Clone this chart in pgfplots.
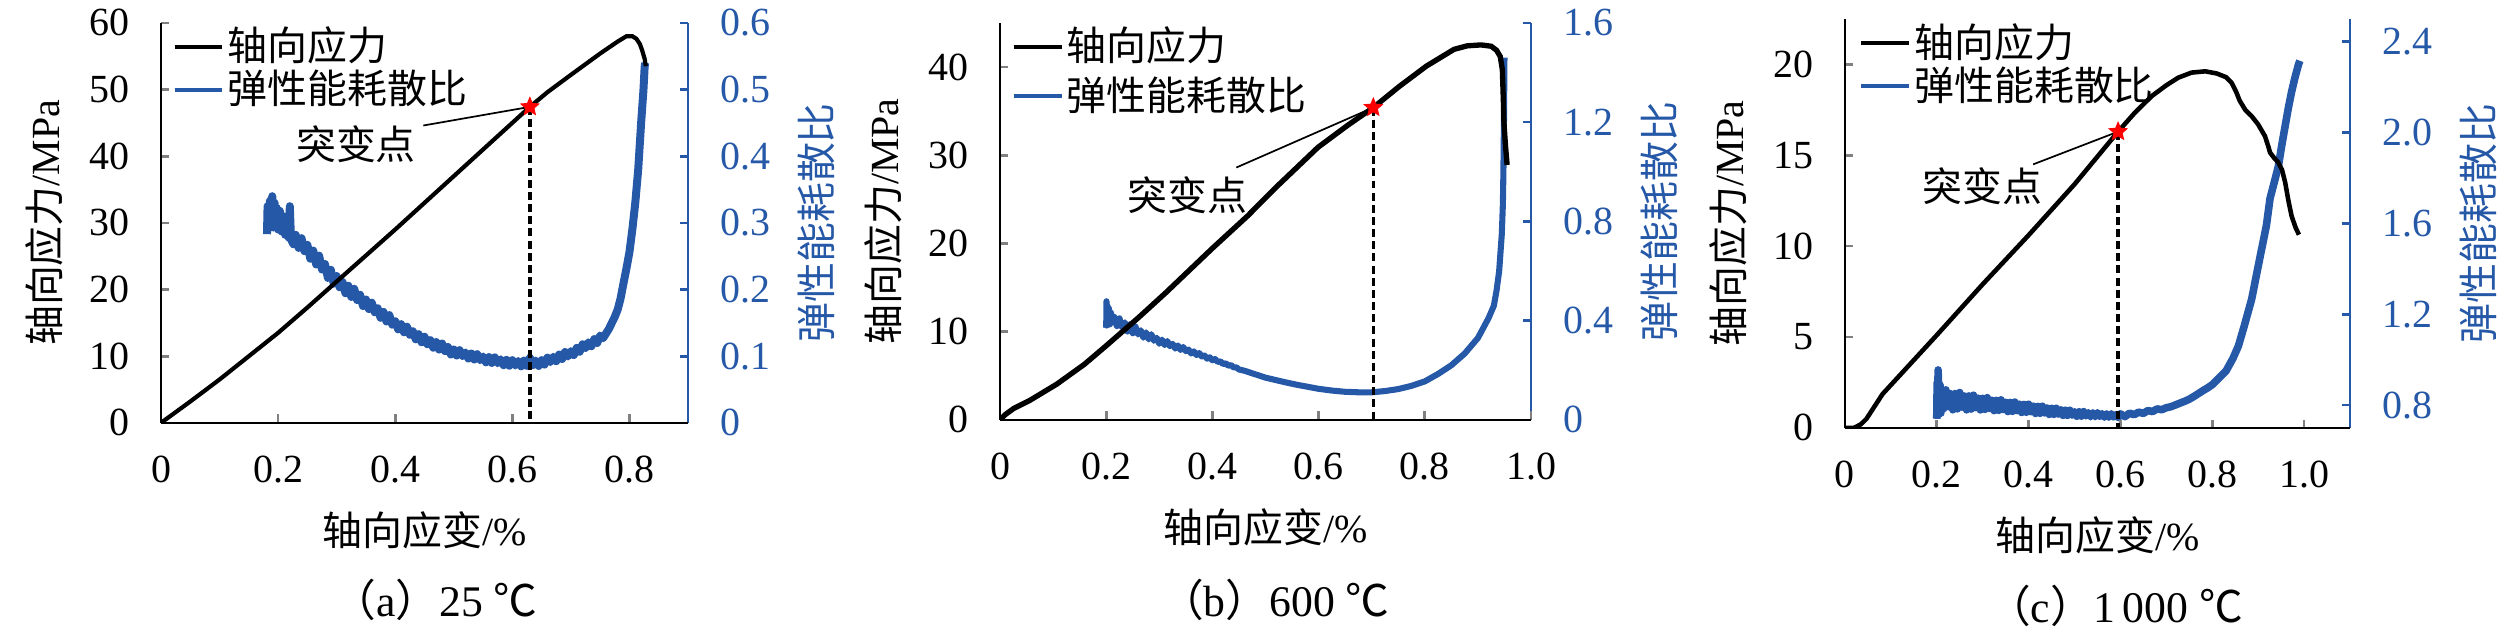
\documentclass[border=0pt]{standalone}
\usepackage{fontspec}
\setmainfont{Liberation Serif}
\newfontfamily\cjk{Noto Sans CJK SC}
\usepackage{pgfplots}
\pgfplotsset{compat=1.18}
\definecolor{bl}{RGB}{38,88,168}
\newcommand{\lf}{\fontsize{10.5}{12}\selectfont\cjk}
\tikzset{ann/.style={font=\fontsize{10.5}{12}\selectfont\cjk, inner sep=0pt}}
\pgfdeclareplotmark{fstar}{%
 \pgfpathmoveto{\pgfqpoint{0pt}{\pgfplotmarksize}}%
 \pgfpathlineto{\pgfqpoint{-0.265\pgfplotmarksize}{0.364\pgfplotmarksize}}%
 \pgfpathlineto{\pgfqpoint{-0.951\pgfplotmarksize}{0.309\pgfplotmarksize}}%
 \pgfpathlineto{\pgfqpoint{-0.428\pgfplotmarksize}{-0.139\pgfplotmarksize}}%
 \pgfpathlineto{\pgfqpoint{-0.588\pgfplotmarksize}{-0.809\pgfplotmarksize}}%
 \pgfpathlineto{\pgfqpoint{0pt}{-0.45\pgfplotmarksize}}%
 \pgfpathlineto{\pgfqpoint{0.588\pgfplotmarksize}{-0.809\pgfplotmarksize}}%
 \pgfpathlineto{\pgfqpoint{0.428\pgfplotmarksize}{-0.139\pgfplotmarksize}}%
 \pgfpathlineto{\pgfqpoint{0.951\pgfplotmarksize}{0.309\pgfplotmarksize}}%
 \pgfpathlineto{\pgfqpoint{0.265\pgfplotmarksize}{0.364\pgfplotmarksize}}%
 \pgfpathclose\pgfusepathqfillstroke}
\pgfplotsset{
 base/.style={scale only axis, anchor=south west,
  tick align=inside, major tick length=2.2pt,
  /pgf/number format/assume math mode=true,
  tick label style={font=\fontsize{10.5}{12}\selectfont, inner sep=0pt},
  label style={font=\fontsize{10.5}{12}\selectfont},
  axis line style={line width=0.7pt},
  major tick style={line width=0.7pt}},
 leftax/.style={base, axis x line*=bottom, axis y line*=left,
  xticklabel style={anchor=center, yshift=-12.3pt},
  yticklabel style={anchor=east, xshift=-8.2pt},
  xlabel style={at={(axis description cs:0.5,0)}, anchor=center, yshift=-28.2pt},
  ylabel style={anchor=center},
  xlabel={{\cjk 轴向应变}/\%}, ylabel={{\cjk 轴向应力}/MPa},
  legend cell align=left,
  legend image code/.code={\draw[##1,line width=0.9pt] (0pt,0pt) -- (12.6pt,0pt);},
  legend style={anchor=north west, draw=none, fill=none, inner sep=0pt,
    font=\fontsize{10.5}{12}\selectfont\cjk, nodes={inner sep=0.9pt, scale=1}, row sep=-0.8pt}},
 rightax/.style={base, axis x line=none, axis y line*=right,
  y axis line style={bl}, ytick style={bl},
  yticklabel style={bl, anchor=west, xshift=8.4pt},
  ylabel style={bl, anchor=center},
  ylabel={{\cjk 弹性能耗散比}}},
 star/.style={red, draw=red, fill=red, only marks, mark=fstar, mark size=2.4pt, line width=0.3pt, forget plot},
 dline/.style={black, line width=0.9pt, dash pattern=on 2.1pt off 1.1pt, forget plot},
}
\begin{document}
\begin{tikzpicture}
\path[use as bounding box] (0,0) rectangle (662.9pt,167.6pt);
% ================= (a) =================
\begin{axis}[rightax, at={(42.37pt,56.32pt)}, width=138.68pt, height=105.26pt,
  xmin=0, xmax=0.9, ymin=0, ymax=0.6, xtick=\empty,
  ytick={0,0.1,0.2,0.3,0.4,0.5,0.6}, yticklabels={0,0.1,0.2,0.3,0.4,0.5,0.6},
  ylabel style={at={(axis description cs:1.2437,0.5)}}]
\addplot[bl, line width=2.1pt, line join=round] coordinates {
(0.181,0.283)(0.182,0.325)(0.184,0.292)(0.186,0.333)(0.188,0.298)(0.190,0.340)(0.192,0.293)(0.194,0.330)(0.196,0.295)(0.198,0.322)(0.200,0.290)(0.203,0.318)(0.206,0.287)(0.209,0.310)(0.212,0.282)(0.215,0.300)(0.218,0.278)(0.220,0.325)(0.222,0.275)(0.226,0.268)
(0.230,0.282)(0.235,0.2625)(0.240,0.277)(0.245,0.2575)(0.250,0.267)(0.255,0.2462)(0.260,0.2584)(0.265,0.2376)(0.270,0.2508)(0.275,0.230)(0.280,0.2382)(0.285,0.2174)(0.290,0.2296)(0.295,0.2088)(0.300,0.2202)(0.305,0.2034)(0.310,0.2113)(0.315,0.1944)(0.320,0.2057)(0.325,0.1889)(0.330,0.201)(0.335,0.1842)(0.340,0.1921)(0.345,0.1752)(0.350,0.185)(0.355,0.1707)(0.360,0.1802)(0.365,0.1659)(0.370,0.1719)(0.375,0.1576)(0.380,0.1664)(0.385,0.1521)(0.390,0.1616)(0.395,0.1473)(0.400,0.1524)(0.405,0.1403)(0.410,0.148)(0.415,0.1359)(0.420,0.1442)(0.425,0.1321)(0.430,0.1374)(0.435,0.1253)(0.440,0.133)(0.445,0.1209)(0.450,0.1292)(0.455,0.1179)(0.460,0.124)(0.465,0.1127)(0.470,0.1212)(0.475,0.1099)(0.480,0.119)(0.485,0.1077)(0.490,0.1138)(0.495,0.1025)(0.500,0.110)(0.505,0.101)(0.510,0.109)(0.515,0.100)(0.520,0.1055)(0.525,0.0965)(0.530,0.104)(0.535,0.095)(0.540,0.103)(0.545,0.094)(0.550,0.0995)(0.555,0.0908)(0.560,0.0986)(0.565,0.0899)(0.570,0.0982)(0.575,0.0895)(0.580,0.0953)(0.585,0.0866)(0.590,0.0944)(0.595,0.0857)(0.600,0.094)(0.605,0.0861)(0.610,0.0927)(0.615,0.0848)(0.620,0.0934)(0.625,0.0855)(0.630,0.0976)(0.635,0.0867)(0.640,0.0933)(0.645,0.0854)(0.650,0.094)(0.655,0.0874)(0.660,0.0978)(0.665,0.0912)(0.670,0.0991)(0.675,0.0925)(0.680,0.1024)(0.685,0.0958)(0.690,0.1062)(0.695,0.0996)(0.700,0.1075)(0.705,0.1017)(0.710,0.1124)(0.715,0.1066)(0.720,0.1178)(0.725,0.112)(0.730,0.1207)(0.735,0.1149)(0.740,0.1256)(0.745,0.1198)(0.750,0.131)(0.755,0.127)(0.760,0.134)(0.765,0.141)(0.770,0.150)(0.775,0.159)(0.780,0.170)(0.785,0.187)(0.790,0.210)(0.795,0.232)(0.800,0.256)(0.805,0.290)(0.810,0.330)(0.815,0.380)(0.820,0.450)(0.824,0.500)(0.826,0.534)(0.827,0.540)};
\end{axis}
\begin{axis}[leftax, at={(42.37pt,56.32pt)}, width=138.68pt, height=105.26pt,
  xmin=0, xmax=0.9, ymin=0, ymax=60,
  xtick={0,0.2,0.4,0.6,0.8}, xticklabels={0,0.2,0.4,0.6,0.8},
  ytick={0,10,20,30,40,50,60}, yticklabels={0,10,20,30,40,50,60},
  ylabel style={at={(axis description cs:-0.2221,0.5)}},
  legend style={at={(axis description cs:0.021,1.0)}}]
\addplot[black, line width=1.1pt] coordinates {
(0,0)(0.05,3.2)(0.1,6.5)(0.15,10.0)(0.2,13.5)(0.25,17.3)(0.3,21.2)(0.35,25.1)(0.4,29.0)(0.45,33.0)(0.5,37.0)(0.55,41.0)(0.6,45.0)(0.63,47.4)(0.66,49.6)(0.7,52.2)(0.75,55.4)(0.78,57.2)(0.795,58.0)(0.805,58.0)(0.812,57.6)(0.818,56.8)(0.822,55.8)(0.826,54.6)(0.828,53.5)};
\addlegendentry{\lf 轴向应力}
\addlegendimage{bl, line width=1pt}
\addlegendentry{\lf 弹性能耗散比}
\addplot[dline] coordinates {(0.63,47.4)(0.63,0)};
\draw[line width=0.45pt] (axis cs:0.63,47.4) -- (axis cs:0.448,44.6);
\addplot[star] coordinates {(0.63,47.4)};
\node[ann] at (axis cs:0.333,41.8) {突变点};
\end{axis}
% ================= (b) =================
\begin{axis}[rightax, at={(263.16pt,57.11pt)}, width=139.74pt, height=104.47pt,
  xmin=0, xmax=1.0, ymin=0, ymax=1.6, xtick=\empty,
  ytick={0,0.4,0.8,1.2,1.6}, yticklabels={0,0.4,0.8,1.2,1.6},
  ylabel style={at={(axis description cs:1.2419,0.5)}}]
\addplot[bl, line width=1.6pt, line join=round] coordinates {
(0.200,0.372)(0.2005,0.478)(0.201,0.380)(0.202,0.462)(0.203,0.388)(0.205,0.450)(0.207,0.385)(0.209,0.432)(0.211,0.392)
(0.215,0.415)(0.220,0.378)(0.225,0.409)(0.230,0.372)(0.235,0.393)(0.240,0.356)(0.245,0.385)(0.250,0.349)(0.255,0.3764)(0.260,0.3443)(0.265,0.3611)(0.270,0.3311)(0.275,0.3525)(0.280,0.3244)(0.285,0.3451)(0.290,0.3187)(0.295,0.3308)(0.300,0.3066)(0.305,0.3231)(0.310,0.3013)(0.315,0.3175)(0.320,0.2968)(0.325,0.3065)(0.330,0.2873)(0.335,0.2997)(0.340,0.2817)(0.345,0.2936)(0.350,0.2768)(0.355,0.2832)(0.360,0.2674)(0.365,0.276)(0.370,0.2611)(0.375,0.2693)(0.380,0.2553)(0.385,0.2594)(0.390,0.2465)(0.395,0.252)(0.400,0.240)(0.405,0.245)(0.410,0.2336)(0.415,0.2356)(0.420,0.2249)(0.425,0.228)(0.430,0.2179)(0.435,0.2207)(0.440,0.2112)(0.445,0.2117)(0.450,0.2029)(0.46,0.198)(0.47,0.191)(0.48,0.184)(0.49,0.177)(0.50,0.170)(0.52,0.160)(0.54,0.150)(0.56,0.141)(0.58,0.133)(0.600,0.125)(0.625,0.118)(0.650,0.113)(0.675,0.111)(0.700,0.111)(0.725,0.116)(0.750,0.124)(0.775,0.137)(0.800,0.155)(0.825,0.185)(0.850,0.220)(0.875,0.267)(0.900,0.330)(0.910,0.370)(0.920,0.410)(0.930,0.460)(0.935,0.520)(0.940,0.600)(0.945,0.750)(0.947,0.870)(0.948,1.000)(0.949,1.200)(0.950,1.460)};
\end{axis}
\begin{axis}[leftax, at={(263.16pt,57.11pt)}, width=139.74pt, height=104.47pt,
  xmin=0, xmax=1.0, ymin=0, ymax=45,
  xtick={0,0.2,0.4,0.6,0.8,1.0}, xticklabels={0,0.2,0.4,0.6,0.8,1.0},
  ytick={0,10,20,30,40}, yticklabels={0,10,20,30,40},
  ylabel style={at={(axis description cs:-0.2204,0.5)}},
  legend style={at={(axis description cs:0.021,1.0)}, row sep=0.8pt}]
\addplot[black, line width=1.4pt] coordinates {
(0,0)(0.01,0.6)(0.026,1.3)(0.056,2.2)(0.107,4.05)(0.159,6.3)(0.2,8.4)(0.261,11.6)(0.312,14.4)(0.4,19.45)(0.466,23.1)(0.517,26.2)(0.599,30.9)(0.655,33.4)(0.703,35.4)(0.752,37.8)(0.803,40.1)(0.855,42.0)(0.88,42.4)(0.906,42.5)(0.925,42.35)(0.935,41.9)(0.942,41.2)(0.946,39.7)(0.948,36.0)(0.949,33.7)(0.952,31.0)(0.955,28.9)};
\addlegendentry{\lf 轴向应力}
\addlegendimage{bl, line width=1pt}
\addlegendentry{\lf 弹性能耗散比}
\addplot[dline] coordinates {(0.703,35.4)(0.703,0)};
\draw[line width=0.45pt] (axis cs:0.703,35.4) -- (axis cs:0.445,28.6);
\addplot[star] coordinates {(0.703,35.4)};
\node[ann] at (axis cs:0.353,25.5) {突变点};
\end{axis}
% ================= (c) =================
\begin{axis}[rightax, at={(485.5pt,55.0pt)}, width=132.9pt, height=107.6pt,
  xmin=0, xmax=1.1, ymin=0.7, ymax=2.5, xtick=\empty,
  ytick={0.8,1.2,1.6,2.0,2.4}, yticklabels={0.8,1.2,1.6,2.0,2.4},
  ylabel style={at={(axis description cs:1.2543,0.5)}}]
\addplot[bl, line width=2.0pt, line join=round] coordinates {
(0.200,0.740)(0.201,0.900)(0.202,0.770)(0.203,0.955)(0.205,0.760)(0.207,0.890)(0.209,0.765)
(0.210,0.8615)(0.215,0.7846)(0.220,0.8672)(0.225,0.7933)(0.230,0.8501)(0.235,0.7797)(0.240,0.851)(0.245,0.7837)(0.250,0.8555)(0.255,0.7912)(0.260,0.8402)(0.265,0.7794)(0.270,0.8405)(0.275,0.7828)(0.280,0.8438)(0.285,0.7891)(0.290,0.8303)(0.295,0.7791)(0.300,0.830)(0.305,0.7813)(0.310,0.8328)(0.315,0.7856)(0.320,0.8212)(0.325,0.7757)(0.330,0.821)(0.335,0.7771)(0.340,0.8232)(0.345,0.7808)(0.350,0.8125)(0.355,0.7718)(0.360,0.812)(0.365,0.7729)(0.370,0.8136)(0.375,0.776)(0.380,0.8038)(0.385,0.7679)(0.390,0.803)(0.395,0.7687)(0.400,0.804)(0.405,0.7712)(0.410,0.7953)(0.415,0.7638)(0.420,0.7944)(0.425,0.7642)(0.430,0.7951)(0.435,0.7661)(0.440,0.7871)(0.445,0.7595)(0.450,0.786)(0.455,0.7596)(0.460,0.7862)(0.465,0.7611)(0.470,0.779)(0.475,0.7552)(0.480,0.7776)(0.485,0.7551)(0.490,0.7774)(0.495,0.756)(0.500,0.7708)(0.505,0.7513)(0.510,0.7705)(0.515,0.7517)(0.520,0.7712)(0.525,0.7532)(0.530,0.7665)(0.535,0.7493)(0.540,0.766)(0.545,0.7496)(0.550,0.7664)(0.555,0.7508)(0.560,0.7621)(0.565,0.7474)(0.570,0.7615)(0.575,0.7475)(0.580,0.7616)(0.585,0.7484)(0.590,0.7578)(0.595,0.7454)(0.600,0.762)(0.610,0.7495)(0.620,0.7647)(0.630,0.7581)(0.640,0.7692)(0.650,0.7636)(0.660,0.7762)(0.670,0.7716)(0.680,0.7835)(0.690,0.7798)(0.700,0.7886)(0.710,0.793)(0.720,0.801)(0.730,0.809)(0.740,0.817)(0.750,0.826)(0.760,0.838)(0.770,0.851)(0.780,0.864)(0.790,0.876)(0.800,0.890)(0.815,0.920)(0.830,0.950)(0.845,1.005)(0.857,1.060)(0.870,1.150)(0.886,1.267)(0.900,1.410)(0.910,1.510)(0.918,1.590)(0.926,1.710)(0.935,1.780)(0.944,1.850)(0.952,1.950)(0.959,2.030)(0.966,2.110)(0.973,2.180)(0.980,2.240)(0.988,2.300)(0.991,2.316)};
\end{axis}
\begin{axis}[leftax, at={(485.5pt,55.0pt)}, width=132.9pt, height=107.6pt,
  xmin=0, xmax=1.1, ymin=0, ymax=22.5,
  xtick={0,0.2,0.4,0.6,0.8,1.0}, xticklabels={0,0.2,0.4,0.6,0.8,1.0},
  ytick={0,5,10,15,20}, yticklabels={0,5,10,15,20},
  ylabel style={at={(axis description cs:-0.2318,0.5)}},
  legend style={at={(axis description cs:0.0278,1.0)}}]
\addplot[black, line width=1.2pt] coordinates {
(0,0)(0.02,0.0)(0.035,0.2)(0.047,0.5)(0.065,1.2)(0.082,1.86)(0.2,5.1)(0.3,7.9)(0.4,10.6)(0.5,13.4)(0.595,16.3)(0.63,17.3)(0.668,18.25)(0.70,18.85)(0.726,19.27)(0.755,19.55)(0.785,19.62)(0.81,19.5)(0.83,19.3)(0.842,19.0)(0.852,18.5)(0.86,18.0)(0.872,17.5)(0.886,17.15)(0.90,16.7)(0.915,16.05)(0.922,15.5)(0.926,15.15)(0.935,14.85)(0.944,14.6)(0.952,14.2)(0.959,13.5)(0.966,12.5)(0.973,11.65)(0.982,11.0)(0.989,10.63)};
\addlegendentry{\lf 轴向应力}
\addlegendimage{bl, line width=1pt}
\addlegendentry{\lf 弹性能耗散比}
\addplot[dline] coordinates {(0.595,16.3)(0.595,0)};
\draw[line width=0.45pt] (axis cs:0.595,16.3) -- (axis cs:0.41,14.5);
\addplot[star] coordinates {(0.595,16.3)};
\node[ann] at (axis cs:0.299,13.3) {突变点};
\end{axis}
% captions
\node[font=\fontsize{11.5}{13}\selectfont, inner sep=0pt] at (114.5pt,9.7pt) {{\cjk （}a{\cjk ）}25 {\cjk ℃}};
\node[font=\fontsize{11.5}{13}\selectfont, inner sep=0pt] at (335.5pt,9.7pt) {{\cjk （}b{\cjk ）}600 {\cjk ℃}};
\node[font=\fontsize{11.5}{13}\selectfont, inner sep=0pt] at (556.6pt,8.2pt) {{\cjk （}c{\cjk ）}1\,000 {\cjk ℃}};
\end{tikzpicture}
\end{document}
